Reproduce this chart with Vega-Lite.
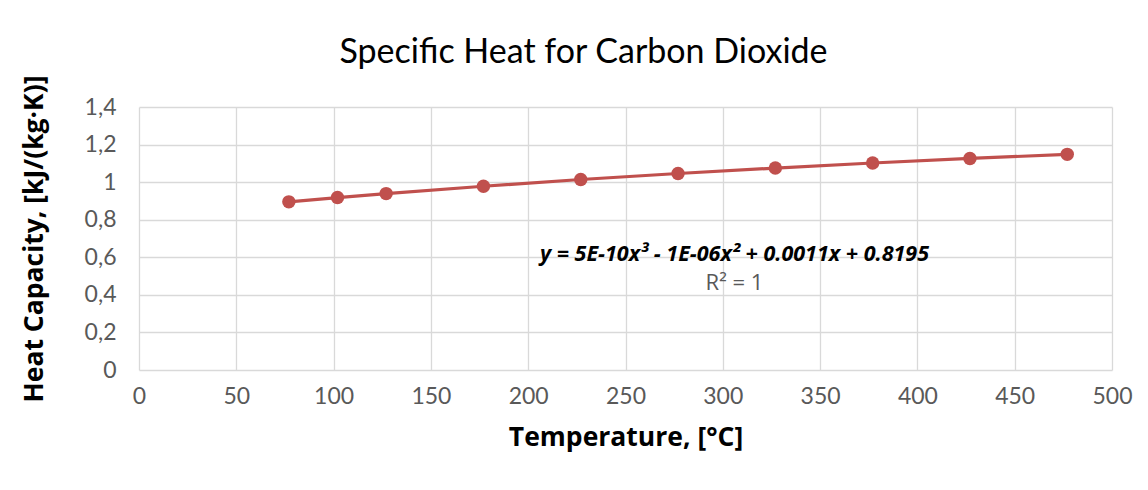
{
  "$schema": "https://vega.github.io/schema/vega-lite/v6.json",
  "width": 973,
  "height": 263,
  "autosize": {"type": "none"},
  "padding": {"left": 139, "top": 107, "right": 36, "bottom": 120},
  "background": "white",
  "title": {
    "text": "Specific Heat for Carbon Dioxide",
    "font": "Lato",
    "fontSize": 34,
    "fontWeight": "normal",
    "color": "#000000",
    "anchor": "middle",
    "frame": "group",
    "dx": -42,
    "offset": 5
  },
  "config": {
    "view": {"stroke": null},
    "axis": {
      "gridColor": "#d9d9d9",
      "gridWidth": 1.3,
      "domain": false,
      "ticks": false,
      "labelOverlap": false,
      "labelFlush": false,
      "labelFont": "Lato",
      "labelFontSize": 23,
      "labelColor": "#595959",
      "titleFont": "Open Sans",
      "titleFontSize": 26.5,
      "titleFontWeight": "bold",
      "titleColor": "#000000"
    }
  },
  "data": {
    "values": [
      {"t": 77, "cp": 0.895},
      {"t": 102, "cp": 0.918},
      {"t": 127, "cp": 0.939},
      {"t": 177, "cp": 0.978},
      {"t": 227, "cp": 1.014},
      {"t": 277, "cp": 1.046},
      {"t": 327, "cp": 1.075},
      {"t": 377, "cp": 1.102},
      {"t": 427, "cp": 1.126},
      {"t": 477, "cp": 1.148}
    ]
  },
  "encoding": {
    "x": {
      "field": "t", "type": "quantitative",
      "scale": {"domain": [0, 500], "nice": false},
      "axis": {"values": [0,50,100,150,200,250,300,350,400,450,500], "title": "Temperature, [°C]", "labelPadding": 15, "titlePadding": 16}
    },
    "y": {
      "field": "cp", "type": "quantitative",
      "scale": {"domain": [0, 1.4], "nice": false},
      "axis": {"values": [0,0.2,0.4,0.6,0.8,1,1.2,1.4], "labelExpr": "replace(format(datum.value, '.1~f'), '.', ',')", "title": "Heat Capacity, [kJ/(kg·K)]", "labelPadding": 23, "titlePadding": 36}
    }
  },
  "layer": [
    {
      "mark": {"type": "line", "color": "#c0504d", "strokeWidth": 3.2}
    },
    {
      "mark": {"type": "point", "filled": true, "color": "#c0504d", "size": 180, "opacity": 1}
    },
    {
      "data": {"values": [{"t": 306, "cp": 0.612, "label": "y = 5E-10x³ - 1E-06x² + 0.0011x + 0.8195"}]},
      "mark": {"type": "text", "font": "Open Sans", "fontSize": 21.5, "fontWeight": "bold", "fontStyle": "italic", "color": "#000000", "align": "center", "baseline": "middle"},
      "encoding": {"text": {"field": "label"}}
    },
    {
      "data": {"values": [{"t": 306, "cp": 0.463, "label": "R² = 1"}]},
      "mark": {"type": "text", "font": "Open Sans", "fontSize": 22, "color": "#595959", "align": "center", "baseline": "middle"},
      "encoding": {"text": {"field": "label"}}
    }
  ]
}
